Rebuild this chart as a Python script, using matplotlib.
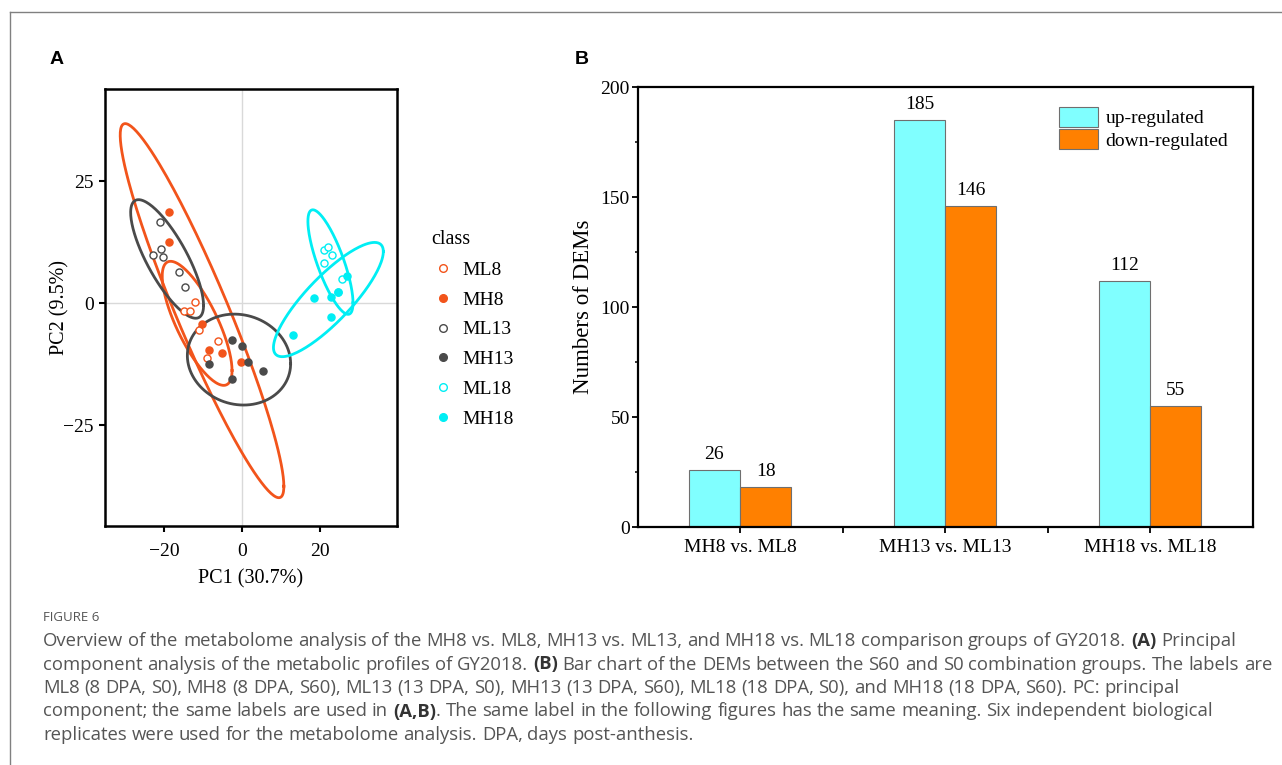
import numpy as np
import matplotlib
matplotlib.use('Agg')
import matplotlib.pyplot as plt
from matplotlib.lines import Line2D
from matplotlib.transforms import IdentityTransform
from matplotlib.ticker import MultipleLocator

# panel A: PCA scores (PC1, PC2), six replicates per class
ml8_x = [-12.0, -15.0, -13.4, -11.2, -6.2, -9.1]
ml8_y = [0.3, -1.5, -1.5, -5.5, -7.8, -11.2]
mh8_x = [-18.7, -18.7, -10.3, -8.5, -5.2, -0.4]
mh8_y = [18.8, 12.5, -4.3, -9.6, -10.1, -12.1]
ml13_x = [-21.0, -20.8, -20.3, -23.0, -16.2, -14.8]
ml13_y = [16.7, 11.1, 9.5, 9.8, 6.4, 3.3]
mh13_x = [-2.6, 0.0, 1.5, 5.2, -8.4, -2.7]
mh13_y = [-7.5, -8.7, -12.0, -13.8, -12.4, -15.5]
ml18_x = [20.9, 21.9, 22.9, 20.9, 25.6, 24.6]
ml18_y = [10.9, 11.5, 9.8, 8.3, 4.9, 2.3]
mh18_x = [26.9, 24.6, 22.8, 18.5, 22.8, 12.9]
mh18_y = [5.5, 2.3, 1.2, 1.0, -2.8, -6.4]

class_names = ['ML8', 'MH8', 'ML13', 'MH13', 'ML18', 'MH18']
class_x = [ml8_x, mh8_x, ml13_x, mh13_x, ml18_x, mh18_x]
class_y = [ml8_y, mh8_y, ml13_y, mh13_y, ml18_y, mh18_y]
class_col = ['#F2541B', '#F2541B', '#4a4a4a', '#4a4a4a', '#00EEF4', '#00EEF4']
class_filled = [False, True, False, True, False, True]

# panel B: numbers of DEMs
groups = ['MH8 vs. ML8', 'MH13 vs. ML13', 'MH18 vs. ML18']
up_reg = [26, 185, 112]
down_reg = [18, 146, 55]

caption_head = 'FIGURE 6'
caption_lines = [
    'Overview of the metabolome analysis of the MH8 vs. ML8, MH13 vs. ML13, and MH18 vs. ML18 comparison groups of GY2018. **(A)** Principal',
    'component analysis of the metabolic profiles of GY2018. **(B)** Bar chart of the DEMs between the S60 and S0 combination groups. The labels are',
    'ML8 (8 DPA, S0), MH8 (8 DPA, S60), ML13 (13 DPA, S0), MH13 (13 DPA, S60), ML18 (18 DPA, S0), and MH18 (18 DPA, S60). PC: principal',
    'component; the same labels are used in **(A,B)**. The same label in the following figures has the same meaning. Six independent biological',
    'replicates were used for the metabolome analysis. DPA, days post-anthesis.',
]

SERIF = 'Liberation Serif'
CAP_FONT = 'Open Sans'
W, H = 1282, 765


def cov_trob(pts, nu=5, maxit=25, tol=0.01):
    # same iteration as MASS::cov.trob (used by ggplot stat_ellipse type="t")
    n, p = pts.shape
    wt = np.ones(n)
    loc = pts.mean(axis=0)
    w = np.sqrt(wt)
    for it in range(maxit):
        w0 = w
        X = pts - loc
        u, d, vt = np.linalg.svd(np.sqrt(w / w.sum())[:, None] * X, full_matrices=False)
        wX = X @ vt.T @ np.diag(1 / d)
        Q = (wX ** 2).sum(axis=1)
        w = wt * (nu + p) / (nu + Q)
        loc = (w[:, None] * pts).sum(axis=0) / w.sum()
        if np.all(np.abs(w - w0) < tol):
            break
    sX = np.sqrt(w)[:, None] * X
    return loc, sX.T @ sX / wt.sum()


def ellipse_xy(xs, ys):
    pts = np.column_stack([xs, ys])
    center, shape = cov_trob(pts)
    radius = np.sqrt(2 * 5.786135)  # sqrt(2 * qf(0.95, 2, n - 1)), n = 6
    ang = np.linspace(0, 2 * np.pi, 200)
    circle = np.column_stack([np.cos(ang), np.sin(ang)])
    e = center + radius * circle @ np.linalg.cholesky(shape).T
    return e[:, 0], e[:, 1]


def draw_rich_line(fig, r, x, y, line, size, color, keep=True):
    sp = fig.text(0, 0, 'a a', fontsize=size, family=CAP_FONT)
    nsp = fig.text(0, 0, 'aa', fontsize=size, family=CAP_FONT)
    space_w = sp.get_window_extent(r).width - nsp.get_window_extent(r).width
    sp.remove()
    nsp.remove()
    made = []
    chunks = line.split('**')
    for i, chunk in enumerate(chunks):
        bold = i % 2 == 1
        words = chunk.split(' ')
        for j, wd in enumerate(words):
            if j > 0:
                x += space_w
            if wd:
                t = fig.text(x, y, wd, transform=IdentityTransform(), fontsize=size,
                             family=CAP_FONT, color='#333333' if bold else color,
                             fontweight='bold' if bold else 'normal', va='baseline')
                x += t.get_window_extent(r).width
                made.append(t)
    if not keep:
        for t in made:
            t.remove()
    return x


def main():
    fig = plt.figure(figsize=(W / 100, H / 100), dpi=100)

    # ---- A: PCA
    ax1 = fig.add_axes([105 / W, 1 - 526 / H, 292 / W, 437 / H])
    ax1.axhline(0, color='#d9d9d9', lw=1, zorder=0)
    ax1.axvline(0, color='#d9d9d9', lw=1, zorder=0)
    for xs, ys, col in zip(class_x, class_y, class_col):
        ex, ey = ellipse_xy(xs, ys)
        ax1.plot(ex, ey, color=col, lw=2, zorder=2)
    handles = []
    for name, xs, ys, col, filled in zip(class_names, class_x, class_y, class_col, class_filled):
        fc = col if filled else 'white'
        ax1.scatter(xs, ys, s=26, facecolors=fc, edgecolors=col, linewidths=1, zorder=4 if filled else 3)
        handles.append(Line2D([], [], ls='none', marker='o', ms=5.5, mfc=fc, mec=col, mew=1, label=name))
    ax1.set_xlim(-35.2, 39.7)
    ax1.set_ylim(-45.6, 43.9)
    ax1.set_xticks([-20, 0, 20])
    ax1.set_yticks([-25, 0, 25])
    ax1.set_xticklabels(['\u221220', '0', '20'], family=SERIF)
    ax1.set_yticklabels(['\u221225', '0', '25'], family=SERIF)
    ax1.tick_params(direction='out', length=4, width=1.5, labelsize=14)
    ax1.tick_params(axis='x', pad=8)
    ax1.tick_params(axis='y', pad=4)
    for s in ax1.spines.values():
        s.set_linewidth(1.8)
    ax1.set_xlabel('PC1 (30.7%)', family=SERIF, fontsize=14.5)
    ax1.set_ylabel('PC2 (9.5%)', family=SERIF, fontsize=14.5)
    ax1.xaxis.set_label_coords(0.5, -0.098)
    ax1.yaxis.set_label_coords(-0.12, 0.5)

    fig.legend(handles=handles, title='class', loc='upper left',
               bbox_to_anchor=(414 / W, 1 - 213 / H), frameon=False, alignment='left',
               prop={'family': SERIF, 'size': 14}, title_fontproperties={'family': SERIF, 'size': 14.5},
               handlelength=1.2, handletextpad=0.38, labelspacing=0.62)

    # ---- B: bars
    ax2 = fig.add_axes([637.5 / W, 1 - 527 / H, 615 / W, 440 / H])
    xpos = np.arange(len(groups))
    bw = 0.25
    b1 = ax2.bar(xpos - bw / 2, up_reg, bw, color='#80FFFF', edgecolor='#6f6f6f', lw=0.8, label='up-regulated')
    b2 = ax2.bar(xpos + bw / 2, down_reg, bw, color='#FF8000', edgecolor='#6f6f6f', lw=0.8, label='down-regulated')
    ax2.bar_label(b1, padding=5, fontsize=14, family=SERIF)
    ax2.bar_label(b2, padding=5, fontsize=14, family=SERIF)
    ax2.set_xlim(-0.5, 2.5)
    ax2.set_ylim(0, 200)
    ax2.set_xticks([0, 0.5, 1, 1.5, 2])
    ax2.set_xticklabels([groups[0], '', groups[1], '', groups[2]], family=SERIF)
    ax2.yaxis.set_major_locator(MultipleLocator(50))
    ax2.yaxis.set_minor_locator(MultipleLocator(25))
    for lab in ax2.get_yticklabels():
        lab.set_family(SERIF)
    ax2.tick_params(which='major', direction='out', length=4, width=1.3, labelsize=14)
    ax2.tick_params(axis='x', which='major', pad=5)
    ax2.tick_params(axis='y', which='major', pad=1.5)
    ax2.tick_params(which='minor', direction='out', length=2.5, width=1.1)
    for s in ax2.spines.values():
        s.set_linewidth(1.6)
    ax2.set_ylabel('Numbers of DEMs', family=SERIF, fontsize=16.5)
    ax2.yaxis.set_label_coords(-0.071, 0.5)
    ax2.legend(loc='upper left', bbox_to_anchor=(0.685, 0.955), frameon=False, borderpad=0,
               prop={'family': SERIF, 'size': 14}, handlelength=2.0, handleheight=1.2,
               labelspacing=0.1, handletextpad=0.4, borderaxespad=0)

    # ---- panel letters, frame and caption
    fig.text(50 / W, 1 - 60 / H, 'A', family='Liberation Sans', fontweight='bold', fontsize=14, va='center')
    fig.text(575 / W, 1 - 60 / H, 'B', family='Liberation Sans', fontweight='bold', fontsize=14, va='center')
    fig.add_artist(Line2D([10 / W, 1], [1 - 12 / H, 1 - 12 / H], color='#808080', lw=1, transform=fig.transFigure))
    fig.add_artist(Line2D([10 / W, 10 / W], [0, 1 - 12 / H], color='#808080', lw=1, transform=fig.transFigure))

    r = fig.canvas.get_renderer()
    # size the caption so its widest line ends near the right edge, as in the figure
    widest = max(draw_rich_line(fig, r, 0, 0, ln, 12, '#555555', keep=False) for ln in caption_lines)
    cap_size = 12 * 1222 / widest
    fig.text(43, H - 621, caption_head, transform=IdentityTransform(), family=CAP_FONT,
             fontsize=9.5, color='#555555', va='baseline')
    for i, line in enumerate(caption_lines):
        draw_rich_line(fig, r, 43, H - (646 + 23.5 * i), line, cap_size, '#555555')

    fig.savefig('out.png', dpi=100)


if __name__ == '__main__':
    main()
